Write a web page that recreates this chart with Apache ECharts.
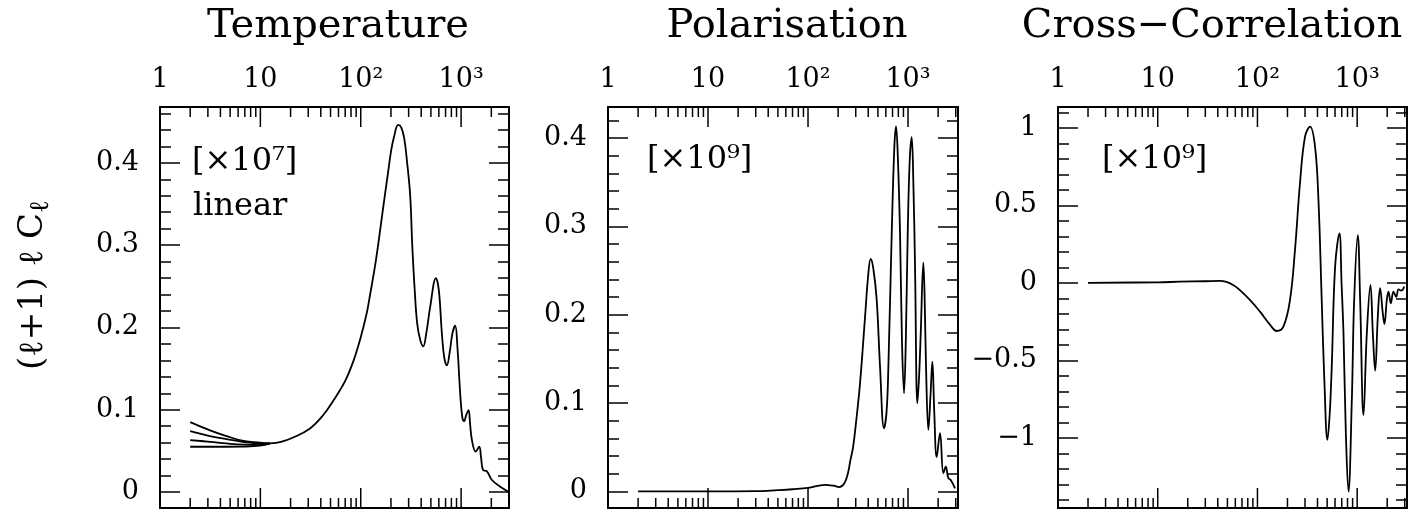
<!DOCTYPE html>
<html><head><meta charset="utf-8">
<script src="https://cdn.jsdelivr.net/npm/echarts@6/dist/echarts.min.js"></script>
<style>html,body{margin:0;padding:0;background:#fff}#c{width:1414px;height:512px}</style>
</head><body><div id="c"></div>
<script>
// ---------- data ----------
const panelTitles = ['Temperature', 'Polarisation', 'Cross\u2212Correlation'];
const panelScales = ['[\u00d710\u2077]', '[\u00d710\u2079]', '[\u00d710\u2079]'];
const tempNote = 'linear';
const yAxisTitle = '(\u2113+1) \u2113 C';
const yAxisTitleSub = '\u2113';

const xLabelVals = [1, 10, 100, 1000];
const xLabelTexts = ['1', '10', '10\u00b2', '10\u00b3'];
const xTickVals = [2,3,4,5,6,7,8,9,10,20,30,40,50,60,70,80,90,100,200,300,400,500,600,700,800,900,1000,2000,3000];

// Temperature: low-l curves (differ below l~12)
const tempLowL  = [2, 3.15, 4.6, 6.8, 9.9, 12.5];
const tempLowA  = [0.085, 0.075, 0.068, 0.062, 0.0600, 0.059];
const tempLowB  = [0.074, 0.068, 0.0644, 0.0608, 0.0590, 0.059];
const tempLowC  = [0.063, 0.061, 0.059, 0.0575, 0.0572, 0.059];
const tempLowD  = [0.055, 0.055, 0.055, 0.0552, 0.0563, 0.059];
// Temperature: common curve
const tempL = [12.5, 16, 21, 31, 42, 54, 70, 85, 100, 115, 124, 139, 149, 167, 188, 201, 215, 236, 253, 271, 290, 311, 326, 345, 365, 391, 419, 450, 492, 561, 600, 643, 680, 721, 770, 820, 873, 920, 979, 1030, 1073, 1120, 1186, 1230, 1282, 1396, 1515, 1580, 1651, 1808, 2028, 2455, 2970];
const tempV = [0.059, 0.061, 0.066, 0.077, 0.093, 0.112, 0.135, 0.160, 0.188, 0.218, 0.240, 0.275, 0.300, 0.345, 0.390, 0.415, 0.432, 0.446, 0.443, 0.430, 0.400, 0.360, 0.300, 0.245, 0.205, 0.185, 0.177, 0.193, 0.225, 0.260, 0.245, 0.193, 0.163, 0.154, 0.170, 0.193, 0.202, 0.175, 0.120, 0.090, 0.086, 0.093, 0.0996, 0.082, 0.063, 0.049, 0.055, 0.042, 0.027, 0.025, 0.0146, 0.0065, 0.0004];

// Polarisation
const polL = [2, 10, 30, 50, 70, 100, 147, 180, 205, 230, 250, 265, 282, 300, 331, 372, 400, 423, 450, 486, 525, 575, 610, 636, 687, 730, 759, 790, 832, 870, 912, 950, 993, 1040, 1088, 1130, 1175, 1240, 1290, 1340, 1423, 1465, 1514, 1597, 1680, 1751, 1830, 1935, 2089, 2256, 2382, 2531, 2673, 2951];
const polV = [0, 0, 0.0003, 0.0015, 0.0025, 0.004, 0.0075, 0.0065, 0.005, 0.009, 0.02, 0.035, 0.05, 0.075, 0.122, 0.198, 0.245, 0.263, 0.252, 0.217, 0.141, 0.0715, 0.09, 0.141, 0.292, 0.39, 0.413, 0.38, 0.292, 0.17, 0.111, 0.17, 0.292, 0.375, 0.401, 0.35, 0.254, 0.0998, 0.13, 0.179, 0.259, 0.22, 0.141, 0.0696, 0.11, 0.147, 0.09, 0.039, 0.066, 0.0206, 0.028, 0.015, 0.013, 0.0036];

// Cross-correlation
const crossL = [2, 10, 16.7, 30, 42, 57, 78, 106, 134, 156, 182, 212, 238, 267, 300, 337, 378, 409, 441, 470, 503, 530, 556, 601, 664, 697, 729, 770, 818, 884, 933, 1014, 1071, 1157, 1250, 1359, 1436, 1515, 1611, 1698, 1807, 1876, 1983, 2059, 2176, 2312, 2461, 2600, 2767, 2967];
const crossV = [0, 0.003, 0.007, 0.010, 0.012, -0.014, -0.09, -0.186, -0.272, -0.311, -0.283, -0.111, 0.212, 0.642, 0.943, 1.007, 0.878, 0.534, -0.111, -0.65, -1.014, -0.85, -0.541, 0.104, 0.319, 0.0, -0.326, -0.971, -1.348, -0.756, -0.111, 0.308, -0.111, -0.853, -0.326, -0.014, -0.326, -0.567, -0.218, -0.035, -0.197, -0.266, -0.111, -0.057, -0.132, -0.057, -0.09, -0.042, -0.051, -0.025];

// axis ranges
const xMins = [1, 1, 1];
const xMaxs = [3000, 3160, 3160];
const yMins = [-0.0194, -0.0187, -1.453];
const yMaxs = [0.4678, 0.435, 1.134];
const yLabelSteps = [0.1, 0.1, 0.5];

// ---------- layout / style ----------
const FONT = '"DejaVu Serif", serif';
const gridLefts = [160, 608, 1058];
const gridWidths = [349, 350, 349];
const GTOP = 107, GH = 401;
const BLACK = '#000';

const pairs = (xs, ys) => xs.map((x, i) => [x, ys[i]]);
const isDecade = v => Math.abs(Math.log10(v) - Math.round(Math.log10(v))) < 1e-6;

const grids = [], xAxes = [], yAxes = [], series = [];
for (let p = 0; p < 3; p++) {
  grids.push({left: gridLefts[p], top: GTOP, width: gridWidths[p], height: GH, containLabel: false});
  const xBase = {type: 'log', logBase: 10, gridIndex: p, min: xMins[p], max: xMaxs[p],
    axisLine: {show: true, onZero: false, lineStyle: {color: BLACK, width: 2}},
    axisTick: {show: false}, splitLine: {show: false}, minorTick: {show: false}};
  xAxes.push(Object.assign({}, xBase, {position: 'top',
    axisLabel: {show: true, showMinLabel: true, showMaxLabel: true, margin: 14, color: BLACK, fontFamily: FONT, fontSize: 27,
      formatter: v => { for (let i = 0; i < xLabelVals.length; i++) { if (Math.abs(Math.log10(v) - Math.log10(xLabelVals[i])) < 1e-6) return xLabelTexts[i]; } return ''; }}}));
  xAxes.push(Object.assign({}, xBase, {position: 'bottom', axisLabel: {show: false}}));
  const step = yLabelSteps[p];
  const yBase = {type: 'value', gridIndex: p, min: yMins[p], max: yMaxs[p], splitNumber: 5,
    axisLine: {show: true, onZero: false, lineStyle: {color: BLACK, width: 2}},
    axisTick: {show: true, inside: true, length: 20, lineStyle: {color: BLACK, width: 1.5}},
    minorTick: {show: true, splitNumber: 5, length: 11, lineStyle: {color: BLACK, width: 1.5}},
    splitLine: {show: false}, minorSplitLine: {show: false}};
  yAxes.push(Object.assign({}, yBase, {position: 'left',
    axisLabel: {show: true, showMinLabel: true, showMaxLabel: true, margin: 21, color: BLACK, fontFamily: FONT, fontSize: 27,
      formatter: v => {
        const r = Math.round(v / step) * step;
        if (Math.abs(v - r) > 1e-6) return '';
        if (Math.abs(r) < 1e-9) return '0';
        let s = Math.abs(r - Math.round(r)) < 1e-9 ? String(Math.round(r)) : r.toFixed(1);
        return s.replace('-', '\u2212');
      }}}));
  yAxes.push(Object.assign({}, yBase, {position: 'right', axisLabel: {show: false}}));
}

const lineSeries = (p, data) => ({type: 'line', xAxisIndex: 2 * p, yAxisIndex: 2 * p, data: data,
  showSymbol: false, symbol: 'none', smooth: 0.4, clip: true, silent: true,
  lineStyle: {color: BLACK, width: 1.8}});

series.push(lineSeries(0, pairs(tempLowL, tempLowA)));
series.push(lineSeries(0, pairs(tempLowL, tempLowB)));
series.push(lineSeries(0, pairs(tempLowL, tempLowC)));
series.push(lineSeries(0, pairs(tempLowL, tempLowD)));
series.push(lineSeries(0, pairs(tempL, tempV)));
series.push(lineSeries(1, pairs(polL, polV)));
series.push(lineSeries(2, pairs(crossL, crossV)));

for (let p = 0; p < 3; p++) {
  series.push({type: 'custom', xAxisIndex: 2 * p, yAxisIndex: 2 * p, silent: true, clip: false,
    data: xTickVals.map(v => [v, 0]), encode: {x: 0, y: 1},
    renderItem: (params, api) => {
      const l = api.value(0);
      const x = api.coord([l, 0])[0];
      const cs = params.coordSys;
      const len = isDecade(l) ? 20 : 10;
      const st = {stroke: BLACK, lineWidth: 1.5};
      return {type: 'group', children: [
        {type: 'line', shape: {x1: x, y1: cs.y, x2: x, y2: cs.y + len}, style: st},
        {type: 'line', shape: {x1: x, y1: cs.y + cs.height, x2: x, y2: cs.y + cs.height - len}, style: st}
      ]};
    }});
}

const graphics = [
  {type: 'text', x: 338, y: 27, style: {text: panelTitles[0], font: '40px ' + FONT, fill: BLACK, align: 'center', verticalAlign: 'middle'}},
  {type: 'text', x: 787, y: 27, style: {text: panelTitles[1], font: '40px ' + FONT, fill: BLACK, align: 'center', verticalAlign: 'middle'}},
  {type: 'text', x: 1212, y: 27, style: {text: panelTitles[2], font: '40px ' + FONT, fill: BLACK, align: 'center', verticalAlign: 'middle'}},
  {type: 'text', x: 192, y: 162, style: {text: panelScales[0], font: '32px ' + FONT, fill: BLACK, align: 'left', verticalAlign: 'middle'}},
  {type: 'text', x: 193, y: 207, style: {text: tempNote, font: '32px ' + FONT, fill: BLACK, align: 'left', verticalAlign: 'middle'}},
  {type: 'text', x: 647, y: 160, style: {text: panelScales[1], font: '32px ' + FONT, fill: BLACK, align: 'left', verticalAlign: 'middle'}},
  {type: 'text', x: 1102, y: 160, style: {text: panelScales[2], font: '32px ' + FONT, fill: BLACK, align: 'left', verticalAlign: 'middle'}},
  {type: 'text', x: 33, y: 285, rotation: Math.PI / 2,
    style: {text: yAxisTitle + '{s|' + yAxisTitleSub + '}', font: '34px ' + FONT, fontFamily: FONT, fontSize: 34, fill: BLACK, align: 'center', verticalAlign: 'middle',
      rich: {s: {fontFamily: FONT, fontSize: 27, fill: BLACK, verticalAlign: 'top', padding: [16, 0, 0, 0]}}}}
];

const chart = echarts.init(document.getElementById('c'), null, {renderer: 'canvas'});
chart.setOption({
  animation: false,
  backgroundColor: '#fff',
  grid: grids, xAxis: xAxes, yAxis: yAxes, series: series,
  graphic: graphics
});
</script></body></html>
